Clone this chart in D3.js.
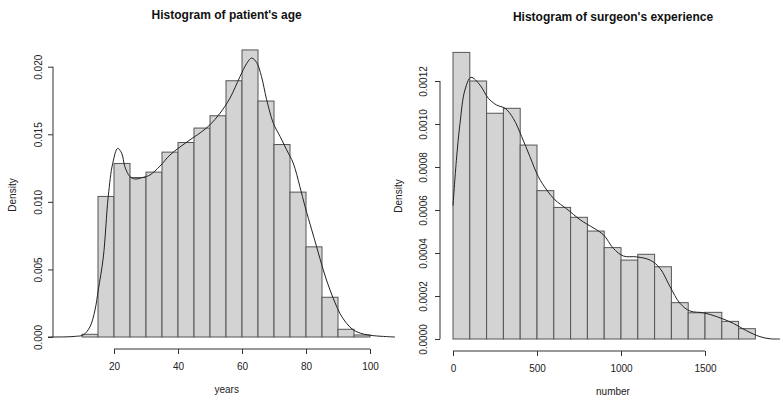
<!DOCTYPE html>
<html>
<head>
<meta charset="utf-8">
<script src="https://cdn.jsdelivr.net/npm/d3@7"></script>
<style>
  body { margin: 0; background: #fff; }
  svg { display: block; font-family: "Liberation Sans", Arial, sans-serif; }
</style>
</head>
<body>
<svg id="chart" width="783" height="406"></svg>
<script>
// ---------- DATA ----------
// Patient's age histogram (breaks every 5 years, 10..100)
const ageBreaks = [10,15,20,25,30,35,40,45,50,55,60,65,70,75,80,85,90,95,100];
const ageDensity = [0.0002,0.0104,0.01284,0.0118,0.0122,0.01368,0.01439,0.01546,0.01637,
                    0.01896,0.02124,0.01746,0.01424,0.01072,0.00667,0.00294,0.00057,0.00015];
const ageCurveX = [-0.6,5,8,10.4,12.5,14.06,15.1,16.66,18.2,19.6,21.15,22.4,23.4,25,26.6,29.2,31.25,
                   34.4,37.5,43.75,46.9,50,53.1,56.25,59.4,61.5,63.0,64.6,66.1,67.7,69.8,71.9,73.96,
                   76.0,78.1,79.7,81.8,83.3,85.4,87.5,90.6,92.7,94.8,97.9,101,105.2,107.8];
const ageCurveY = [0,0.00001,0.00005,0.00015,0.00076,0.002,0.0035,0.0059,0.0104,0.01285,0.01396,
                   0.0136,0.0126,0.01186,0.01169,0.01182,0.01199,0.01265,0.01347,0.01459,0.0151,
                   0.0157,0.01655,0.01768,0.01928,0.02025,0.02064,0.02030,0.01926,0.01756,0.01581,
                   0.01484,0.01384,0.01287,0.01112,0.00965,0.00792,0.00669,0.00496,0.00348,0.00175,
                   0.00101,0.00052,0.00022,0.0001,0.00003,0];
const ageXTicks = [20,40,60,80,100];
const ageYTicks = [0,0.005,0.010,0.015,0.020];
const ageYTickLabels = ["0.000","0.005","0.010","0.015","0.020"];

// Surgeon's experience histogram (breaks every 100, 0..1800)
const expBreaks = [0,100,200,300,400,500,600,700,800,900,1000,1100,1200,1300,1400,1500,1600,1700,1800];
const expDensity = [0.001333,0.0012,0.00105,0.001073,0.000902,0.00069,0.000612,0.000566,0.000502,
                    0.000425,0.000367,0.000394,0.000336,0.000169,0.000122,0.000124,0.000082,0.000048];
const expCurveX = [0,20,41.7,71,107,161,210,260,310,359,409,458,508,558,607,677,756,796,895,954,
                   1014,1093,1173,1232,1292,1351,1411,1490,1570,1668,1748,1827,1887,1946];
const expCurveY = [0.00062,0.00083,0.001003,0.001158,0.001217,0.001181,0.00112,0.001088,0.001073,
                   0.001026,0.000941,0.000848,0.000755,0.000693,0.000647,0.000605,0.000555,0.000535,
                   0.000485,0.000422,0.000386,0.000382,0.000367,0.000329,0.000243,0.000166,0.00013,
                   0.000122,0.000104,0.000073,0.000038,0.000011,0.000001,0];
const expXTicks = [0,500,1000,1500];
const expYTicks = [0,0.0002,0.0004,0.0006,0.0008,0.0010,0.0012];
const expYTickLabels = ["0.0000","0.0002","0.0004","0.0006","0.0008","0.0010","0.0012"];

// ---------- DRAW ----------
const svg = d3.select("#chart");
const LINE = "#333";

function panel(cfg) {
  const g = svg.append("g");
  const x = d3.scaleLinear().domain(cfg.xDom).range(cfg.xRange);
  const y = d3.scaleLinear().domain(cfg.yDom).range(cfg.yRange);

  // bars
  const bins = cfg.density.map((d, i) => ({x0: cfg.breaks[i], x1: cfg.breaks[i+1], d}));
  g.selectAll("rect.bar").data(bins).join("rect")
    .attr("class", "bar")
    .attr("x", b => x(b.x0))
    .attr("y", b => y(b.d))
    .attr("width", b => x(b.x1) - x(b.x0))
    .attr("height", b => y(0) - y(b.d))
    .attr("fill", "#d3d3d3")
    .attr("stroke", "#555")
    .attr("stroke-width", 1);

  // density curve
  const pts = cfg.curveX.map((v, i) => [v, cfg.curveY[i]]);
  g.append("path")
    .attr("d", d3.line().x(p => x(p[0])).y(p => y(p[1])).curve(d3.curveCatmullRom.alpha(0.5))(pts))
    .attr("fill", "none")
    .attr("stroke", "#222")
    .attr("stroke-width", 1);

  // x axis
  const xa = g.append("g").attr("transform", `translate(0,${cfg.xAxisY})`)
    .call(d3.axisBottom(x).tickValues(cfg.xTicks).tickSize(5).tickSizeOuter(0).tickPadding(9)
      .tickFormat(d3.format("d")));
  xa.select(".domain").attr("d", `M${x(cfg.xTicks[0])},0H${x(cfg.xTicks[cfg.xTicks.length-1])}`)
    .attr("stroke", LINE);
  xa.selectAll(".tick line").attr("stroke", LINE);
  xa.selectAll(".tick text").attr("font-size", 10).attr("fill", "#222")
    .attr("font-family", "Liberation Sans, Arial, sans-serif");

  // y axis
  const ya = g.append("g").attr("transform", `translate(${cfg.yAxisX},0)`)
    .call(d3.axisLeft(y).tickValues(cfg.yTicks).tickSize(5).tickSizeOuter(0)
      .tickFormat((d, i) => cfg.yTickLabels[i]));
  ya.select(".domain").attr("d", `M0,${y(cfg.yTicks[0])}V${y(cfg.yTicks[cfg.yTicks.length-1])}`)
    .attr("stroke", LINE);
  ya.selectAll(".tick line").attr("stroke", LINE);
  ya.selectAll(".tick text")
    .attr("x", null).attr("dy", null)
    .attr("text-anchor", "middle")
    .attr("transform", `translate(${cfg.yLabelBase - cfg.yAxisX},0) rotate(-90)`)
    .attr("font-size", 10).attr("fill", "#222")
    .attr("font-family", "Liberation Sans, Arial, sans-serif");

  // titles & labels
  g.append("text").attr("x", cfg.titleX).attr("y", cfg.titleY)
    .attr("text-anchor", "middle").attr("font-weight", "bold").attr("font-size", 12)
    .attr("fill", "#111").text(cfg.title);
  g.append("text").attr("x", cfg.titleX).attr("y", cfg.xLabY)
    .attr("text-anchor", "middle").attr("font-size", 10).attr("fill", "#222").text(cfg.xLab);
  g.append("text").attr("transform", `translate(${cfg.yLabX},${cfg.yLabY}) rotate(-90)`)
    .attr("text-anchor", "middle").attr("font-size", 10).attr("fill", "#222").text("Density");
}

panel({
  breaks: ageBreaks, density: ageDensity, curveX: ageCurveX, curveY: ageCurveY,
  xDom: [0, 100], xRange: [50, 370], yDom: [0, 0.02], yRange: [337, 66.7],
  xTicks: ageXTicks, yTicks: ageYTicks, yTickLabels: ageYTickLabels,
  xAxisY: 349, yAxisX: 53, yLabelBase: 41.5,
  title: "Histogram of patient's age", titleX: 226.7, titleY: 19,
  xLab: "years", xLabY: 393, yLabX: 15.5, yLabY: 195
});

panel({
  breaks: expBreaks, density: expDensity, curveX: expCurveX, curveY: expCurveY,
  xDom: [0, 1500], xRange: [453, 705], yDom: [0, 0.0012], yRange: [339, 81],
  xTicks: expXTicks, yTicks: expYTicks, yTickLabels: expYTickLabels,
  xAxisY: 351, yAxisX: 440, yLabelBase: 427,
  title: "Histogram of surgeon's experience", titleX: 613, titleY: 21,
  xLab: "number", xLabY: 395, yLabX: 402, yLabY: 196
});
</script>
</body>
</html>
